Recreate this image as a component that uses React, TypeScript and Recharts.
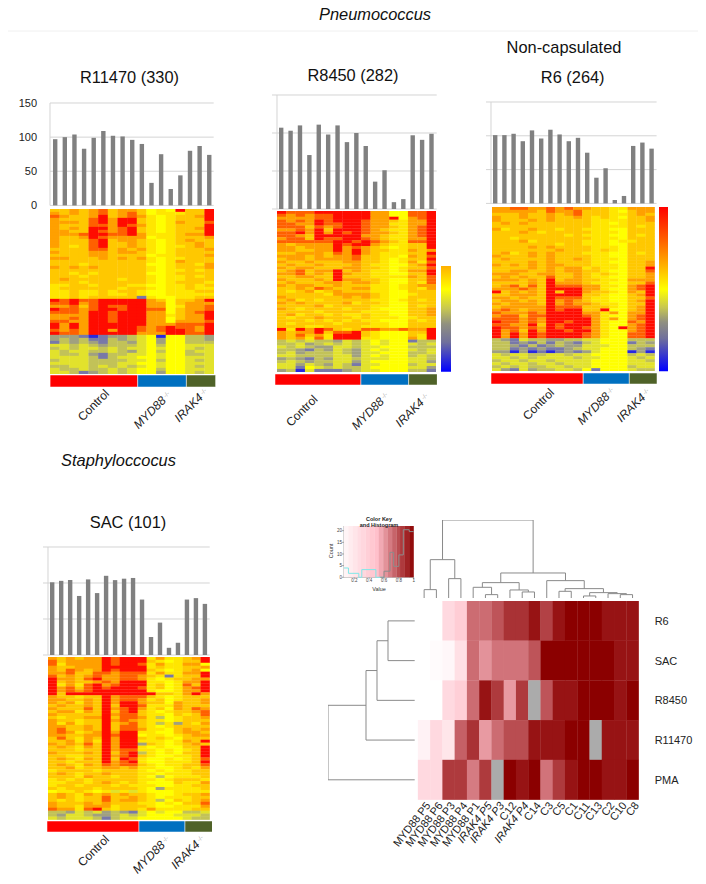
import React from 'react';
import { BarChart, Bar, XAxis, YAxis, CartesianGrid, ScatterChart, Scatter } from 'recharts';

const FONT = '"Liberation Sans", Arial, sans-serif';

// ---- Bars above each heatmap ----
const barsR11470 = [97, 100, 104, 83, 99, 109, 102, 101, 96, 90, 33, 75, 24, 44, 80, 87, 74];
const barsR8450 = [107, 103, 110, 71, 111, 98, 110, 88, 100, 83, 36, 51, 9, 13, 97, 91, 99];
const barsR6 = [101, 101, 103, 92, 108, 96, 109, 102, 92, 97, 75, 38, 52, 5, 11, 85, 90, 81];
const barsSAC = [101, 103, 104, 82, 105, 86, 110, 104, 106, 107, 77, 25, 45, 10, 17, 77, 79, 71];
const barTicks = [0, 50, 100, 150];

// ---- Heatmap rows. Levels: 0..5 yellow to red; o,a,g,h olive to grey-blue; b blue ----
const heatR11470 = [
  '223 234 233 20105 225', '323 234 234 20111 225', '432 235 234 31012 235', '322 245 355 21012 225',
  '333 245 355 21013 224', '322 244 354 31012 225', '323 255 345 21012 235', '332 254 345 21012 225',
  '333 455 445 31112 335', '322 354 333 30112 223', '322 245 233 21012 322', '322 245 223 21012 232',
  '321 245 223 21011 232', '222 244 232 31012 223', '322 233 233 21012 222', '222 233 222 20112 223',
  '332 223 232 31011 222', '222 222 222 21013 222', '222 122 222 20012 213', '323 232 222 21012 223',
  '222 222 222 21011 212', '221 212 222 20012 222', '222 122 222 21011 212', '232 222 212 21011 222',
  '222 122 222 21012 221', '112 212 221 10011 212', '122 222 212 21011 211', '112 112 122 10011 122',
  '112 112 112 10011 111', '112 122 222 h1001 122', '545 445 555 53202 235', '445 345 555 53302 333',
  '334 245 445 53301 334', '544 345 545 54402 334', '444 355 455 53302 345', '333 355 455 53312 335',
  '334 355 455 53302 335', '443 355 455 53303 334', '535 355 555 53334 445', '535 355 555 43454 435',
  '434 355 355 43455 435', '544 355 555 33355 445', 'ggg hbh gga o0b00 aag', 'gag ahh aga o0g00 aag',
  'hag agh aag o0g00 aaa', 'ooa oag aaa o0a00 ooo', 'aoa ooa oao o0o00 oao', 'oao oaa oag o0a00 aoo',
  'oaa ogh aao o0o00 aao', 'ooo oah aoo 00o00 ooo', 'aoo oaa aao o0a00 oao', 'ooo oaa aoo 00o00 ooo',
  'aao oao aoa o0o00 oao', 'oaa oaa oao 00a00 ooo', 'ooa hga oao 00g00 oao',
];
const heatR8450 = [
  '544 455 555 53300 445', '434 344 555 53300 445', '333 344 555 53350 345', '434 354 555 43321 335',
  '443 354 455 43311 335', '444 243 455 43321 345', '334 352 555 43211 345', '445 353 545 43321 345',
  '443 255 555 33211 345', '344 254 455 43211 335', '444 444 554 54321 445', '323 333 545 53211 225',
  '332 333 534 32101 225', '332 233 535 32211 323', '223 332 435 32111 225', '333 232 334 22110 324',
  '233 233 334 22101 225', '322 322 233 22101 314', '232 232 223 21100 235', '323 322 233 22101 224',
  '234 233 523 21101 335', '334 232 532 21100 225', '223 322 522 21111 324', '322 232 533 22100 224',
  '232 223 323 32100 214', '323 322 322 21101 233', '223 243 223 31101 213', '212 312 322 21100 222',
  '222 221 333 32100 122', '322 222 232 32100 222', '231 212 222 21101 212', '323 222 231 22100 222',
  '222 231 222 21100 212', '321 222 212 21000 223', '222 212 222 11100 223', '231 221 211 21100 223',
  '212 232 221 21110 122', '222 121 212 11000 212', '212 222 122 21100 222', '222 112 222 11100 222',
  '515 354 212 44334 335', '323 352 445 21000 225', '324 231 555 21000 215', '323 141 555 11000 315',
  'aoa oaa goa o0o00 haa', 'aao gao aoa o0o00 oao', 'oao agg ooa oo000 aaa', 'aag hag oag o0o00 oao',
  'aog aaa oag oo000 aao', 'ooa aaa oog o0o00 aoa', 'gag hag ooa ooo00 ooa', 'aoa gaa oog o0000 oog',
  'oog oag oah oo000 aoo', 'ooh 0oa oaa o0000 oog', 'gab ohh hga oo000 aah',
];
const heatR6 = [
  '334 433 4343 32211 333', '333 332 4334 22210 233', '222 322 3234 22211 232', '322 322 3223 21210 223',
  '322 232 3222 21111 223', '232 322 2222 21101 222', '222 222 2222 21111 212', '312 232 2122 11100 222',
  '222 321 2222 21110 222', '222 222 2212 11100 212', '221 222 2222 21110 222', '222 312 2222 11101 122',
  '222 222 2122 11100 222', '222 232 3222 21110 222', '222 222 2322 21210 222', '231 232 3222 11100 212',
  '322 232 3222 21100 222', '232 222 3223 21110 222', '222 232 3222 21100 223', '323 232 3322 21110 223',
  '222 232 3233 12110 225', '223 322 3233 22100 224', '333 223 3223 21210 223', '232 322 4223 21100 223',
  '333 232 5233 22110 333', '222 232 5333 21100 224', '234 242 5444 33110 345', '333 432 5555 33100 345',
  '523 232 5255 32210 325', '223 332 5555 22100 235', '332 322 5444 21100 224', '233 232 5343 21100 235',
  '323 332 5343 32110 225', '233 333 5444 22210 235', '343 233 5455 22500 235', '433 343 5555 33130 335',
  '344 244 5555 43100 345', '444 343 5555 53130 345', '544 343 5545 53100 435', '443 352 5455 53100 345',
  '544 343 5455 43105 345', '534 253 5545 53100 345', '535 354 5555 43100 445', '535 354 5555 43100 445',
  'agh oaa ggaa oo000 aaa', 'aah gha hagh ao000 hag', 'aag hah gagg ooo00 aaa', 'aah ghg hhga oo000 agh',
  'ggb gbh bhgh go000 bgb', 'oao oaa ooao o0000 aoa', 'ooa oao oooa oo000 oao', 'aoo aoo aooo o0000 ooa',
  'oao oao oaoo o0000 ooo', 'aoa oaa ooao o0000 aoo', 'ogh oga aooa 0h000 oaa',
];
const heatSAC = [
  '323 233 5455 51311 235', '423 333 5455 52101 225', '413 333 5455 41311 330', '322 333 5555 51211 223',
  '324 323 5455 52101 230', '334 224 4344 41311 335', '423 234 3344 321h1 225', '533 245 3344 31012 233',
  '523 223 4355 51101 335', '513 145 3455 51201 425', '534 245 4555 41201 345', '534 345 5555 51001 335',
  '525 555 5555 55221 353', '322 122 5344 42101 222', '332 232 5344 31201 223', '323 132 5355 32203 223',
  '232 232 5255 41113 222', '322 242 5345 31203 243', '233 132 5245 21012 234', '322 222 5344 21102 124',
  '212 233 5244 31a01 223', '322 122 5343 21101 222', '313 122 5234 21a1g 213', '332 232 5244 21012 222',
  '342 232 5244 31102 323', '343 123 5355 11002 332', '332 233 5455 01101 233', '242 132 5355 21210 222',
  '223 131 5355 11101 325', '323 242 5355 g2101 232', '232 132 5355 10100 225', '222 122 5344 11010 125',
  '322 232 5245 a1010 225', '221 122 5345 21001 125', '232 132 5254 10010 124', '221 222 5345 10011 125',
  '232 132 4344 21011 224', '223 122 3323 11001 213', '122 221 2222 10101 122', '232 122 3222 11011 122',
  '222 132 2122 10a01 112', '121 212 2222 11012 221', '112 212 3212 10002 113', '122 122 2121 11001 122',
  '212 221 2222 10g11 112', '011 210 1o1o 10001 111', '232 132 3232 21001 223', '232 122 4223 21011 122',
  '212 122 4233 21a02 123', '322 232 3222 11010 224', '322 133 3122 21001 113', '433 145 2122 13111 122',
  'aag oao gagh o0o00 aao', 'ago oag gaoa o000o ooa', 'oao ooa haoo 00000 oaa',
];
const levelColors: Record<string, string> = {
  '0': '#ffff00', '1': '#ffe600', '2': '#ffc800', '3': '#ffa000', '4': '#ff6000', '5': '#ff0c00',
  o: '#e2e22c', a: '#c2c258', g: '#a0a080', h: '#7878a8', b: '#2828e0',
};

// ---- Group strip: columns per group ----
const groupNames = ['Control', 'MYD88', 'IRAK4'];
const groupColors = ['#ff0000', '#0070c0', '#4f6228'];
const groups17 = [9, 5, 3];
const groups18 = [10, 5, 3];

// ---- Correlation matrix ----
const matrixCols = ['MYD88 P5', 'MYD88 P6', 'MYD88 P3', 'MYD88 P4', 'MYD88 P1', 'IRAK4 P5', 'IRAK4 P3', 'C12', 'IRAK4 P4', 'C14', 'C3', 'C5', 'C1', 'C11', 'C13', 'C2', 'C10', 'C8'];
const matrixRows = ['R6', 'SAC', 'R8450', 'R11470', 'PMA'];
const matR6 = [0, 0, 0.3, 0.4, 0.72, 0.72, 0.78, 0.87, 0.87, 0.95, 0.83, 0.95, 1, 1, 1, 0.95, 0.95, 0.95];
const matSAC = [0, 0.03, 0.06, 0.25, 0.72, 0.62, 0.7, 0.7, 0.7, 0.78, 1, 1, 1, 1, 1, 1, 0.95, 0.95];
const matR8450 = [0, 0, 0.3, 0.38, 0.72, 0.95, 0.85, 0.6, 0.85, null, 0.78, 0.95, 0.95, 1, 1, 1, 0.95, 1];
const matR11470 = [0.1, 0.3, 0.2, 0.75, 0.87, 0.6, 0.72, 0.8, 0.8, 0.95, 0.95, 0.95, 1, 1, null, 0.95, 0.95, 0.95];
const matPMA = [0.3, 0.3, 0.85, 0.85, 0.68, 0.85, null, 1, 0.95, 1, 0.7, 0.85, 0.95, 1, 1, 0.95, 0.95, 1];
const matrixValues = [matR6, matSAC, matR8450, matR11470, matPMA];

// ---- Dendrograms: [pos A, height A, pos B, height B, join height] ----
const topLinks = [
  [0.5, 0, 1.5, 0, 26], [2.5, 0, 3.5, 0, 59], [1, 26, 3, 59, 116],
  [5.5, 0, 6.5, 0, 11], [4.5, 0, 6, 11, 33], [8.5, 0, 9.5, 0, 19], [7.5, 0, 9, 19, 25],
  [5.25, 33, 8.25, 25, 47], [11.5, 0, 12.5, 0, 21], [13.5, 0, 14.5, 0, 7], [16.5, 0, 17.5, 0, 11],
  [15.5, 0, 17, 11, 14], [14, 7, 16.25, 14, 17], [12, 21, 15.125, 17, 29], [10.5, 0, 13.56, 29, 53],
  [6.75, 47, 12.03, 53, 76], [2, 116, 9.39, 76, 235],
];
const leftLinks = [
  [0.5, 0, 1.5, 0, 80], [1, 80, 2.5, 0, 113], [1.75, 113, 3.5, 0, 146], [2.625, 146, 4.5, 0, 260],
];

// ---- Colour key ----
const keySteps = [0.09, 0.15, 0.21, 0.27, 0.32, 0.38, 0.44, 0.5, 0.56, 0.62, 0.68, 0.74, 0.8, 0.85, 0.91, 0.97];
const histCyan = [[0.06, 4], [0.12, 4], [0.12, 1.7], [0.26, 1.7], [0.26, 0], [0.3, 0], [0.3, 3.3], [0.49, 3.3], [0.49, 0], [0.6, 0]];
const histGray = [[0.55, 0], [0.6, 0], [0.6, 2.6], [0.68, 2.6], [0.68, 10.7], [0.73, 10.7], [0.73, 4.7], [0.8, 4.7], [0.8, 9.6], [0.86, 9.6], [0.86, 20.4], [0.94, 20.4], [0.94, 19.6], [1, 19.6]];

const hex = (a: number[], b: number[], t: number) =>
  `rgb(${a.map((c, i) => Math.round(c + (b[i] - c) * t)).join(',')})`;
const ramp = (v: number) =>
  v <= 0.5 ? hex([255, 255, 255], [255, 192, 203], v / 0.5) : hex([255, 192, 203], [139, 0, 0], (v - 0.5) / 0.5);

const Abs = ({ left, top, children, style }: any) => (
  <div style={{ position: 'absolute', left, top, ...style }}>{children}</div>
);

const EmptyTick = () => <g />;

const BarPanel = ({ left, right, top, bottom, values, showLabels }: any) => {
  const data = values.map((v: number, i: number) => ({ i, v }));
  const axisW = 40;
  return (
    <Abs left={left - axisW} top={top - 8}>
      <BarChart width={right - left + axisW + 2} height={bottom - top + 16} data={data}
        margin={{ top: 8, right: 2, bottom: 8, left: 0 }} barCategoryGap={0}>
        <CartesianGrid vertical={false} stroke="#d4d4d4" strokeWidth={1} />
        <XAxis dataKey="i" hide />
        <YAxis width={axisW} domain={[0, 150]} ticks={barTicks} interval={0} axisLine={{ stroke: '#d4d4d4' }}
          tickLine={showLabels ? false : { stroke: '#d4d4d4' }} tickSize={showLabels ? 0 : 5} tickMargin={showLabels ? 13 : 0}
          tick={showLabels ? { fontSize: 11, fill: '#222', fontFamily: FONT } : <EmptyTick />} />
        <Bar dataKey="v" fill="#808080" barSize={4.4} isAnimationActive={false} />
      </BarChart>
    </Abs>
  );
};

const Heat = ({ left, right, top, bottom, rows }: any) => {
  const parsed = rows.map((r: string) => r.replace(/ /g, '').split(''));
  const cols = parsed[0].length;
  const w = right - left;
  const h = bottom - top;
  const data: any[] = [];
  parsed.forEach((row: string[], r: number) =>
    row.forEach((level, c) => data.push({ x: c + 0.5, y: r + 0.5, level })));
  const cw = w / cols + 0.3;
  const ch = h / parsed.length + 0.3;
  const shape = (p: any) => (
    <rect x={p.cx - cw / 2} y={p.cy - ch / 2} width={cw} height={ch} fill={levelColors[p.payload.level]} />
  );
  return (
    <Abs left={left} top={top} style={{ filter: 'blur(0.6px)' }}>
      <ScatterChart width={w} height={h} margin={{ top: 0, right: 0, bottom: 0, left: 0 }}>
        <XAxis type="number" dataKey="x" domain={[0, cols]} hide />
        <YAxis type="number" dataKey="y" domain={[0, parsed.length]} reversed hide />
        <Scatter data={data} shape={shape} isAnimationActive={false} />
      </ScatterChart>
    </Abs>
  );
};

const Strip = ({ left, right, top, bottom, counts }: any) => {
  const row = { name: 'groups', g0: counts[0], g1: counts[1], g2: counts[2] };
  return (
    <Abs left={left} top={top}>
      <BarChart layout="vertical" width={right - left} height={bottom - top} data={[row]}
        margin={{ top: 0, right: 0, bottom: 0, left: 0 }} barCategoryGap={0}>
        <XAxis type="number" domain={[0, counts[0] + counts[1] + counts[2]]} hide />
        <YAxis type="category" dataKey="name" hide />
        {groupColors.map((c, i) => (
          <Bar key={i} dataKey={`g${i}`} stackId="s" fill={c} stroke="#fff" strokeWidth={0.5} isAnimationActive={false} />
        ))}
      </BarChart>
    </Abs>
  );
};

const ColorBar = ({ left, right, top, bottom, low, high, id, stops, ticks }: any) => {
  const row = { name: 'scale', range: [low, high] };
  return (
    <Abs left={left} top={top - 8}>
      <BarChart width={right - left + 34} height={bottom - top + 16} data={[row]}
        margin={{ top: 8, right: 34, bottom: 8, left: 0 }} barCategoryGap={0}>
        <defs>
          <linearGradient id={id} x1="0" y1="0" x2="0" y2="1">
            {stops.map((s: any[], i: number) => <stop key={i} offset={s[0]} stopColor={s[1]} />)}
          </linearGradient>
        </defs>
        <XAxis dataKey="name" hide />
        <YAxis orientation="right" width={0} domain={[low, high]} ticks={ticks} interval={0} axisLine={false} tickLine={false}
          tickSize={0} tickMargin={12} tick={ticks.length ? { fontSize: 10.5, fill: '#222', fontFamily: FONT, textAnchor: 'middle' } as any : false} />
        <Bar dataKey="range" fill={`url(#${id})`} isAnimationActive={false} />
      </BarChart>
    </Abs>
  );
};

const linkPoints = (l: number[]) => [
  { p: l[0], h: l[1] }, { p: l[0], h: l[4] }, { p: l[2], h: l[4] }, { p: l[2], h: l[3] },
];
const noDot = () => <g />;
const DEND = { stroke: '#8a8a8a', strokeWidth: 1 };

const TopDendro = ({ left, right, top, bottom }: any) => (
  <Abs left={left} top={top}>
    <ScatterChart width={right - left} height={bottom - top} margin={{ top: 0, right: 0, bottom: 0, left: 0 }}>
      <XAxis type="number" dataKey="p" domain={[0, 18]} hide />
      <YAxis type="number" dataKey="h" domain={[0, 235]} hide />
      {topLinks.map((l, i) => (
        <Scatter key={i} data={linkPoints(l)} line={DEND} shape={noDot} isAnimationActive={false} />
      ))}
    </ScatterChart>
  </Abs>
);

const LeftDendro = ({ left, right, top, bottom }: any) => (
  <Abs left={left} top={top}>
    <ScatterChart width={right - left} height={bottom - top} margin={{ top: 0, right: 0, bottom: 0, left: 0 }}>
      <XAxis type="number" dataKey="h" domain={[0, 260]} reversed hide />
      <YAxis type="number" dataKey="p" domain={[0, 5]} reversed hide />
      {leftLinks.map((l, i) => (
        <Scatter key={i} data={linkPoints(l)} line={DEND} shape={noDot} isAnimationActive={false} />
      ))}
    </ScatterChart>
  </Abs>
);

const MatrixTick = ({ x, y, payload }: any) => {
  const label = matrixCols[Math.floor(payload.value)];
  const italic = label.startsWith('IRAK4');
  const tx = x + 7;
  const ty = y + 4;
  return (
    <text x={tx} y={ty} textAnchor="end" fontSize={11} fontFamily={FONT} fill="#222"
      fontStyle={italic ? 'italic' : 'normal'} transform={`rotate(-52 ${tx} ${ty})`}>{label}</text>
  );
};

const Matrix = () => {
  const left = 418.3, right = 639, top = 601.3, bottom = 800;
  const padL = 50;
  const data: any[] = [];
  matrixValues.forEach((row, r) => row.forEach((v, c) => data.push({ x: c + 0.5, y: r + 0.5, v })));
  const cw = (right - left) / 18 + 0.3;
  const ch = (bottom - top) / 5 + 0.3;
  const shape = (p: any) => (
    <rect x={p.cx - cw / 2} y={p.cy - ch / 2} width={cw} height={ch}
      fill={p.payload.v === null ? '#ababab' : ramp(p.payload.v)} />
  );
  return (
    <Abs left={left - padL} top={top}>
      <ScatterChart width={right - left + 60 + padL} height={bottom - top + 80} margin={{ top: 0, right: 0, bottom: 0, left: padL }}>
        <XAxis type="number" dataKey="x" domain={[0, 18]} ticks={matrixCols.map((_, i) => i + 0.5)} interval={0}
          height={80} axisLine={false} tickLine={false} tickSize={0} tick={<MatrixTick />} />
        <YAxis type="number" dataKey="y" domain={[0, 5]} reversed orientation="right" width={60}
          ticks={matrixRows.map((_, i) => i + 0.5)} interval={0} axisLine={false} tickLine={false} tickSize={0} tickMargin={16}
          tickFormatter={(v: number) => matrixRows[Math.floor(v)]} tick={{ fontSize: 11, fill: '#222', fontFamily: FONT, textAnchor: 'start' } as any} />
        <Scatter data={data} shape={shape} isAnimationActive={false} />
      </ScatterChart>
    </Abs>
  );
};

const ColorKey = () => {
  const left = 344.3, right = 414, top = 526, bottom = 577.3;
  const cw = (right - left) / keySteps.length + 0.3;
  const ch = bottom - top;
  const cells = keySteps.map((v) => ({ x: v, y: 11, v }));
  const cell = (p: any) => <rect x={p.cx - cw / 2} y={p.cy - ch / 2} width={cw} height={ch} fill={ramp(p.payload.v)} />;
  const pts = (a: number[][]) => a.map(([x, y]) => ({ x, y }));
  const small = { fontSize: 4.5, fill: '#444', fontFamily: FONT };
  return (
    <Abs left={left - 16} top={top - 2}>
      <ScatterChart width={right - left + 20} height={bottom - top + 14} margin={{ top: 2, right: 4, bottom: 0, left: 0 }}>
        <XAxis type="number" dataKey="x" domain={[0.06, 1]} ticks={[0.2, 0.4, 0.6, 0.8, 1]} interval={0} height={12}
          stroke="#555" strokeWidth={0.5} tickSize={2} tickMargin={0} tick={small} />
        <YAxis type="number" dataKey="y" domain={[0, 22]} ticks={[0, 5, 10, 15, 20]} interval={0} width={16}
          stroke="#555" strokeWidth={0.5} tickSize={2} tickMargin={0} tick={small} />
        <Scatter data={cells} shape={cell} isAnimationActive={false} />
        <Scatter data={pts(histCyan)} line={{ stroke: '#7fe8e8', strokeWidth: 1 }} shape={noDot} isAnimationActive={false} />
        <Scatter data={pts(histGray)} line={{ stroke: '#8d8d8d', strokeWidth: 1 }} shape={noDot} isAnimationActive={false} />
      </ScatterChart>
    </Abs>
  );
};

const RotLabel = ({ x, y, name, italic = true }: any) => (
  <text x={x} y={y} textAnchor="end" fontSize={12} fontFamily={FONT} fill="#222" transform={`rotate(-45 ${x} ${y})`}>
    <tspan fontStyle={italic ? 'italic' : 'normal'}>{name}</tspan>
    {italic ? <tspan fontSize={6} fill="#999" dy={-3}> -/-</tspan> : null}
  </text>
);
const Title = ({ x, y, text, italic = false }: any) => (
  <text x={x} y={y} textAnchor="middle" fontSize={16.4} fontFamily={FONT} fill="#111" fontStyle={italic ? 'italic' : 'normal'}>{text}</text>
);

const fullStops = [[0, '#ff0000'], [0.2, '#ff6000'], [0.355, '#ffb000'], [0.5, '#ffff00'], [0.61, '#c8c850'], [0.7, '#909080'], [0.8, '#70709c'], [1, '#0000ff']];
const partStops = [[0, '#ffb000'], [0.22, '#ffff00'], [0.4, '#c8c850'], [0.55, '#909080'], [0.72, '#70709c'], [1, '#0000ff']];

export default function App() {
  return (
    <div style={{ position: 'absolute', left: 0, top: 0, width: 706, height: 884, background: '#fff', overflow: 'hidden' }}>
      <BarPanel left={50.3} right={214} top={103.3} bottom={205.7} values={barsR11470} showLabels />
      <Heat left={50.3} right={214.5} top={209} bottom={374} rows={heatR11470} />
      <Strip left={50} right={215.7} top={375} bottom={386.7} counts={groups17} />

      <BarPanel left={277.3} right={437} top={95.3} bottom={209.3} values={barsR8450} />
      <Heat left={277.3} right={436.5} top={211} bottom={372} rows={heatR8450} />
      <Strip left={275} right={437.3} top={374} bottom={385} counts={groups17} />
      <ColorBar left={441} right={450.7} top={266.3} bottom={372} low={-4.9} high={1.4} id="partKey" stops={partStops} ticks={[]} />

      <BarPanel left={490.7} right={656.3} top={102.3} bottom={203.7} values={barsR6} />
      <Heat left={492.3} right={655} top={207} bottom={371.3} rows={heatR6} />
      <Strip left={490.7} right={656.7} top={373} bottom={384} counts={groups18} />
      <ColorBar left={659.3} right={668.3} top={207} bottom={371.3} low={-4.9} high={4.9} id="fullKey" stops={fullStops} ticks={[-4, -2, 0, 2, 4]} />

      <BarPanel left={48.3} right={210} top={547.3} bottom={655.3} values={barsSAC} />
      <Heat left={48.3} right={210} top={657} bottom={819.7} rows={heatSAC} />
      <Strip left={46.7} right={212.3} top={821.3} bottom={832.3} counts={groups18} />

      <TopDendro left={418.3} right={639} top={519.7} bottom={598} />
      <LeftDendro left={328.3} right={415} top={601.3} bottom={800} />
      <Matrix />
      <ColorKey />

      <svg width={706} height={884} style={{ position: 'absolute', left: 0, top: 0, pointerEvents: 'none' }}>
        <line x1={8} x2={698} y1={31} y2={31} stroke="#f0f0f0" />
        <Title x={375} y={20} text="Pneumococcus" italic />
        <Title x={564} y={53.3} text="Non-capsulated" />
        <Title x={129.5} y={83} text="R11470 (330)" />
        <Title x={353} y={81} text="R8450 (282)" />
        <Title x={572.7} y={83} text="R6 (264)" />
        <Title x={118.5} y={466} text="Staphyloccocus" italic />
        <Title x={128} y={528} text="SAC (101)" />

        <RotLabel x={110} y={394.3} name={groupNames[0]} italic={false} />
        <RotLabel x={172} y={396} name={groupNames[1]} />
        <RotLabel x={209} y={393} name={groupNames[2]} />
        <RotLabel x={318.3} y={400} name={groupNames[0]} italic={false} />
        <RotLabel x={390} y={397} name={groupNames[1]} />
        <RotLabel x={430} y={398} name={groupNames[2]} />
        <RotLabel x={555} y={393.3} name={groupNames[0]} italic={false} />
        <RotLabel x={615.7} y={392} name={groupNames[1]} />
        <RotLabel x={651.3} y={393} name={groupNames[2]} />
        <RotLabel x={110} y={840} name={groupNames[0]} italic={false} />
        <RotLabel x={171} y={840.7} name={groupNames[1]} />
        <RotLabel x={205.7} y={840} name={groupNames[2]} />

        <text x={379} y={520.5} textAnchor="middle" fontSize={5.5} fontWeight="bold" fontFamily={FONT} fill="#222">Color Key</text>
        <text x={379} y={527} textAnchor="middle" fontSize={5.5} fontWeight="bold" fontFamily={FONT} fill="#222">and Histogram</text>
        <text x={379} y={591} textAnchor="middle" fontSize={5.5} fontFamily={FONT} fill="#333">Value</text>
        <text x={333} y={551} textAnchor="middle" fontSize={5.5} fontFamily={FONT} fill="#333" transform="rotate(-90 333 551)">Count</text>
      </svg>
    </div>
  );
}
